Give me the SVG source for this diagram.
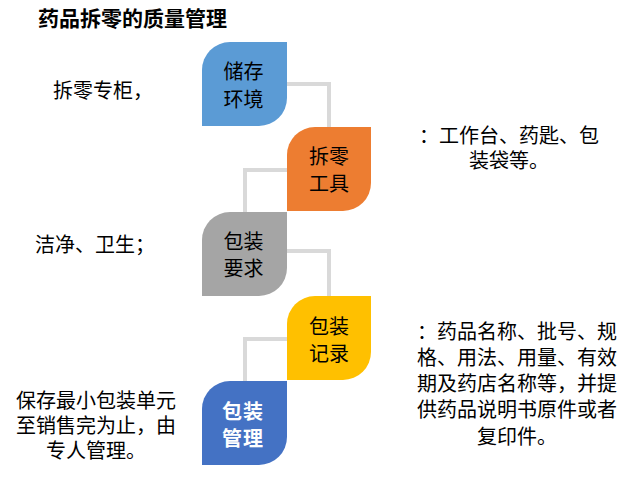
<svg xmlns="http://www.w3.org/2000/svg" width="639" height="482" viewBox="0 0 639 482">
<style>
text{font-family:"Noto Sans CJK SC","Noto Sans",sans-serif;font-size:20px;fill:#000}
.title{font-size:21px;font-weight:bold}
.nt{text-anchor:middle}
.wt{fill:#fff;font-weight:bold}
.mid{text-anchor:middle}
.conn{fill:none;stroke:#D9D9D9;stroke-width:4}
</style>
<rect width="639" height="482" fill="#fff"/>
<text class="title" x="38" y="26">药品拆零的质量管理</text>
<g id="connectors">
<path class="conn" d="M285,84 H329 V129"/>
<path class="conn" d="M289,170 H245 V214"/>
<path class="conn" d="M285,251 H329 V298"/>
<path class="conn" d="M289,339 H245 V383"/>
</g>
<g id="n1">
<path d="M202,70 A28,28 0 0 1 230,42 H287 V98 A28,28 0 0 1 259,126 H202 Z" fill="#5B9BD5"/>
<text class="nt" x="243.5" y="79">储存</text>
<text class="nt" x="243.5" y="106.5">环境</text>
</g>
<g id="n2">
<path d="M287,155 A28,28 0 0 1 315,127 H371 V183 A28,28 0 0 1 343,211 H287 Z" fill="#ED7D31"/>
<text class="nt" x="329" y="164">拆零</text>
<text class="nt" x="329" y="191">工具</text>
</g>
<g id="n3">
<path d="M202,240 A28,28 0 0 1 230,212 H287 V268 A28,28 0 0 1 259,296 H202 Z" fill="#A5A5A5"/>
<text class="nt" x="243.5" y="249">包装</text>
<text class="nt" x="243.5" y="276">要求</text>
</g>
<g id="n4">
<path d="M287,324 A28,28 0 0 1 315,296 H371 V352 A28,28 0 0 1 343,380 H287 Z" fill="#FFC000"/>
<text class="nt" x="329" y="333.5">包装</text>
<text class="nt" x="329" y="361">记录</text>
</g>
<g id="n5">
<path d="M202,409 A28,28 0 0 1 230,381 H287 V437 A28,28 0 0 1 259,465 H202 Z" fill="#4472C4"/>
<text class="nt wt" x="243" y="418.5" letter-spacing="1">包装</text>
<text class="nt wt" x="243" y="446" letter-spacing="1">管理</text>
</g>
<g id="labels">
<text x="53" y="97.5">拆零专柜，</text>
<text x="35" y="251.5">洁净、卫生；</text>
<text class="mid" x="509" y="142.5">：工作台、药匙、包</text>
<text class="mid" x="509" y="167.5">装袋等。</text>
<text class="mid" x="517" y="338.5">：药品名称、批号、规</text>
<text class="mid" x="517" y="364.5">格、用法、用量、有效</text>
<text class="mid" x="517" y="391">期及药店名称等，并提</text>
<text class="mid" x="517" y="417">供药品说明书原件或者</text>
<text class="mid" x="517" y="443.5">复印件。</text>
<text class="mid" x="96" y="407.5">保存最小包装单元</text>
<text class="mid" x="96" y="432.5">至销售完为止，由</text>
<text class="mid" x="96" y="457.5">专人管理。</text>
</g>
</svg>
